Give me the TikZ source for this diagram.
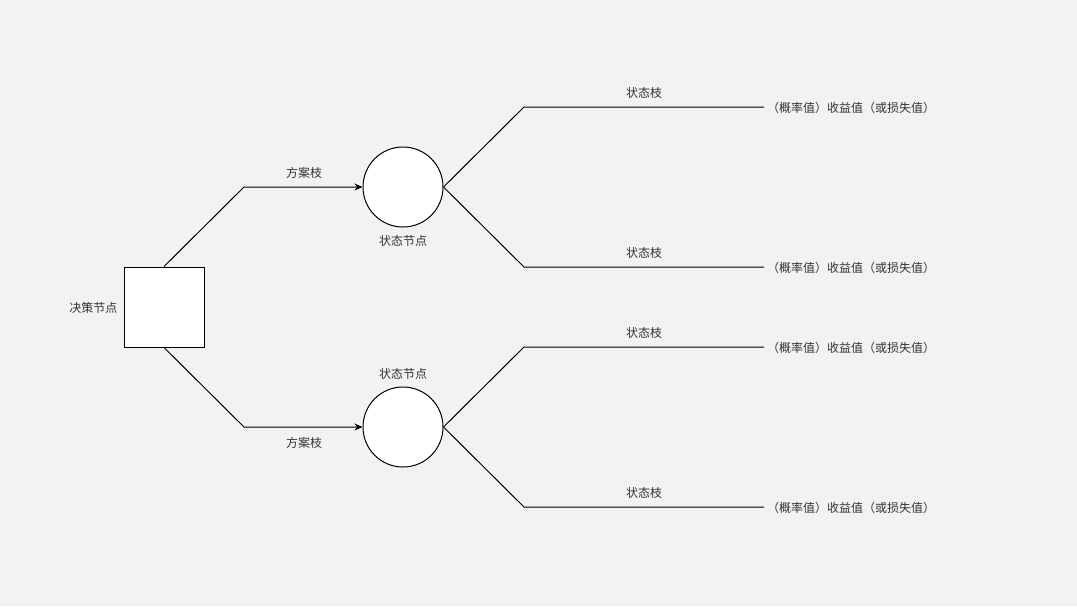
\documentclass[tikz,border=0pt]{standalone}
\usepackage{fontspec}
\newfontfamily\cjk{Noto Sans CJK SC}
\usepackage{tikz}
\usetikzlibrary{positioning}
\usetikzlibrary{arrows, shapes, arrows.meta}
\definecolor{bgray}{HTML}{F2F2F2}
\definecolor{tgray}{HTML}{333333}
\tikzstyle{lbl} = [text=tgray, font=\cjk\fontsize{12}{14}\selectfont, inner sep=0pt]
\tikzstyle{arrow} = [->,>={Stealth[length=8pt,width=7pt]}]
\tikzstyle{br} = [line width=1pt, draw=black]

\begin{document}
\begin{tikzpicture}[x=1pt,y=-1pt]
\useasboundingbox[fill=bgray] (0,0) rectangle (1077,606);
\draw (164,307) node (jc) [draw, fill=white, line width=1pt, minimum size=80pt, inner sep=0pt] {};
\draw (403,187) node (zt1) [circle, draw, fill=white, line width=1pt, minimum size=80pt, inner sep=0pt] {};
\draw (403,427) node (zt2) [circle, draw, fill=white, line width=1pt, minimum size=80pt, inner sep=0pt] {};
\node (ljc) [lbl, left=6pt of jc, yshift=-1pt] {决策节点};
\node (lzt1) [lbl, below=8pt of zt1] {状态节点};
\node (lzt2) [lbl, above=8pt of zt2, yshift=-1pt] {状态节点};
% bend points
\coordinate (f1) at (244,187);
\coordinate (f2) at (244,427);
\coordinate (s1) at (524,107);
\coordinate (s2) at (524,267);
\coordinate (s3) at (524,347);
\coordinate (s4) at (524,507);
\coordinate (e1) at (764,107);
\coordinate (e2) at (764,267);
\coordinate (e3) at (764,347);
\coordinate (e4) at (764,507);
% 方案枝
\draw[br, arrow] (jc.north) -- (f1) -- (zt1.west);
\draw[br, arrow] (jc.south) -- (f2) -- (zt2.west);
\node (fa1) [lbl] at (304,173) {方案枝};
\node (fa2) [lbl] at (304,443) {方案枝};
% 状态枝
\draw[br] (zt1.east) -- (s1) -- (e1);
\draw[br] (zt1.east) -- (s2) -- (e2);
\draw[br] (zt2.east) -- (s3) -- (e3);
\draw[br] (zt2.east) -- (s4) -- (e4);
\node (z1) [lbl] at (644,93) {状态枝};
\node (z2) [lbl] at (644,253) {状态枝};
\node (z3) [lbl] at (644,333) {状态枝};
\node (z4) [lbl] at (644,493) {状态枝};
\node (r1) [lbl, right=3pt of e1, yshift=-1pt] {（概率值）收益值（或损失值）};
\node (r2) [lbl, right=3pt of e2, yshift=-1pt] {（概率值）收益值（或损失值）};
\node (r3) [lbl, right=3pt of e3, yshift=-1pt] {（概率值）收益值（或损失值）};
\node (r4) [lbl, right=3pt of e4, yshift=-1pt] {（概率值）收益值（或损失值）};
\end{tikzpicture}
\end{document}
